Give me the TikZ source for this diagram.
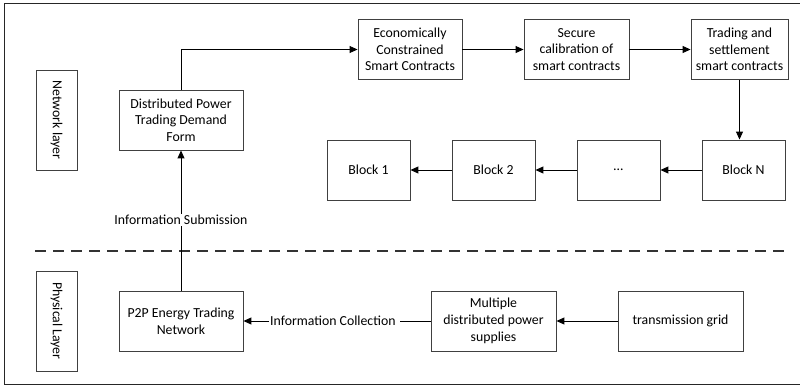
\documentclass[tikz,border=0pt]{standalone}
\usepackage{fontspec}
\setmainfont{Carlito}
\usetikzlibrary{arrows.meta}
\begin{document}
\begin{tikzpicture}[x=1pt,y=-1pt,
  box/.style={draw=black!75,line width=0.9pt,minimum width=#1,minimum height=60pt,align=center,inner sep=2pt,font=\fontsize{13.8}{16.7}\selectfont},
  box/.default=104pt,
  lay/.style={draw=black!75,line width=0.9pt,minimum width=100pt,minimum height=41pt,rotate=-90,font=\fontsize{13.8}{15}\selectfont},
  arr/.style={line width=1pt,-{Triangle[length=8pt,width=7pt]}},
  lbl/.style={font=\fontsize{13.8}{15}\selectfont,inner sep=1pt}]
\useasboundingbox (0,0) rectangle (800,388);
\draw[line width=1pt,black!85] (4,3) rectangle (805,384.5);
\node[lay] (net) at (56.5,120) {Network layer};
\node[lay] (phy) at (56.5,321) {Physical Layer};
\draw[line width=1.3pt,black!80,dash pattern=on 11pt off 7pt] (35,251) -- (788,251);
\node[box=124pt] (dpt) at (181,120) {Distributed Power\\Trading Demand\\Form};
\node[box] (ecc) at (410,49.5) {Economically\\Constrained\\Smart Contracts};
\node[box=105pt] (sec) at (576.5,49.5) {Secure\\calibration of\\smart contracts};
\node[box=97pt] (tss) at (739.5,49.5) {Trading and\\settlement\\smart contracts};
\node[box=83pt] (bn) at (743.5,170) {Block N};
\node[box=83pt] (bd) at (618.5,170) {\dots};
\node[box=83pt] (b2) at (493.5,170) {Block 2};
\node[box=83pt] (b1) at (368.5,170) {Block 1};
\node[box=124pt] (p2p) at (181,321) {P2P Energy Trading\\Network};
\node[box=125pt] (mdp) at (493.5,321) {Multiple\\distributed power\\supplies};
\node[box=125pt] (tg) at (680.5,321) {transmission grid};
\coordinate (turn) at (dpt.north |- ecc.west);
\draw[arr] (dpt.north) -- (turn) -- (ecc.west);
\draw[arr] (ecc.east) -- (sec.west);
\draw[arr] (sec.east) -- (tss.west);
\draw[arr] (tss.south) -- (tss.south |- bn.north);
\draw[arr] (bn.west) -- (bd.east);
\draw[arr] (bd.west) -- (b2.east);
\draw[arr] (b2.west) -- (b1.east);
\draw[arr] (p2p.north) -- (dpt.south);
\node[lbl,fill=white] (isub) at (181,220) {Information Submission};
\draw[arr] (tg.west) -- (mdp.east);
\node[lbl,anchor=west] (icol) at (269,321) {Information Collection};
\draw[line width=1pt] (mdp.west) -- ([xshift=3pt]icol.east);
\draw[arr] (icol.west) -- (p2p.east);
\end{tikzpicture}
\end{document}
